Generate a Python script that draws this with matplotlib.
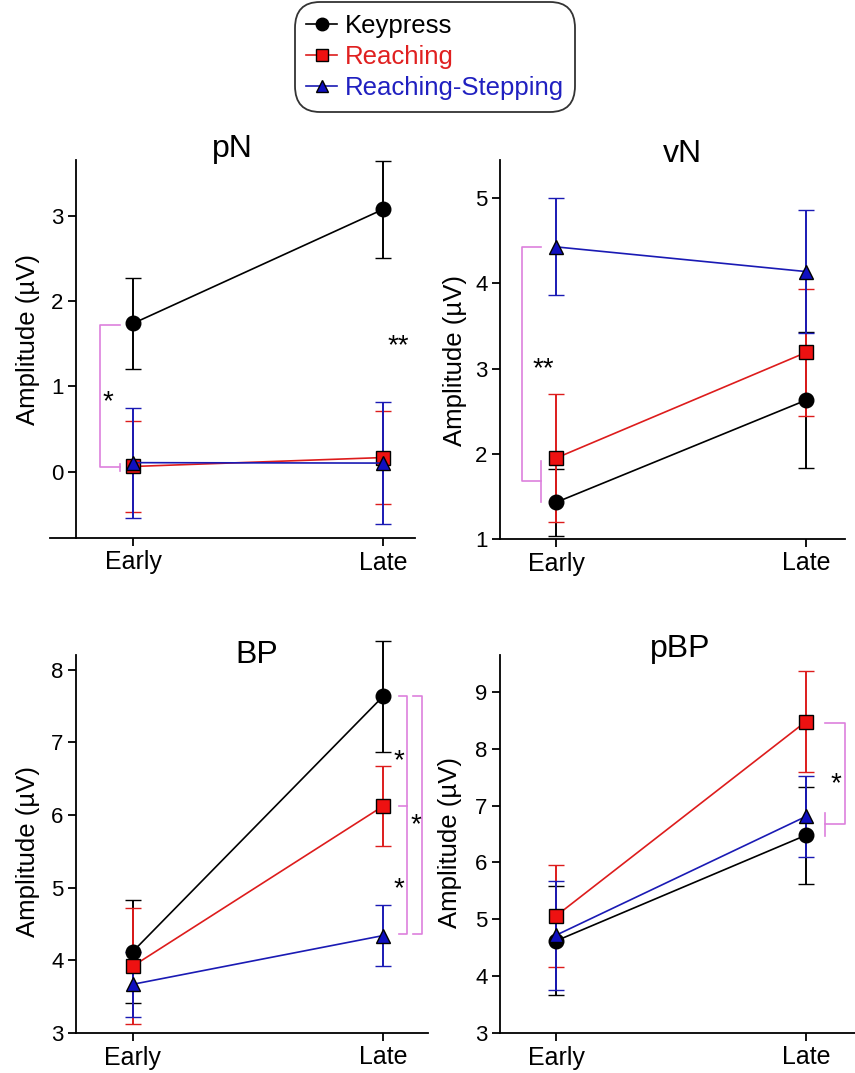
import matplotlib
matplotlib.use('Agg')
import matplotlib.pyplot as plt
from matplotlib.lines import Line2D

plt.rcParams['font.family'] = ['Liberation Sans', 'DejaVu Sans']

# Data (Early, Late), mean and error half-width
categories = ['Early', 'Late']
groups = ['Keypress', 'Reaching', 'Reaching-Stepping']

pn_mean = {'Keypress': [1.74, 3.08], 'Reaching': [0.06, 0.165], 'Reaching-Stepping': [0.105, 0.10]}
pn_err = {'Keypress': [0.53, 0.57], 'Reaching': [0.54, 0.545], 'Reaching-Stepping': [0.645, 0.72]}

vn_mean = {'Keypress': [1.43, 2.63], 'Reaching': [1.95, 3.19], 'Reaching-Stepping': [4.43, 4.14]}
vn_err = {'Keypress': [0.39, 0.80], 'Reaching': [0.75, 0.745], 'Reaching-Stepping': [0.57, 0.72]}

bp_mean = {'Keypress': [4.12, 7.63], 'Reaching': [3.92, 6.12], 'Reaching-Stepping': [3.67, 4.34]}
bp_err = {'Keypress': [0.71, 0.76], 'Reaching': [0.80, 0.55], 'Reaching-Stepping': [0.45, 0.42]}

pbp_mean = {'Keypress': [4.62, 6.48], 'Reaching': [5.06, 8.48], 'Reaching-Stepping': [4.72, 6.81]}
pbp_err = {'Keypress': [0.96, 0.85], 'Reaching': [0.90, 0.89], 'Reaching-Stepping': [0.96, 0.71]}

# styles
RED = '#dd1c1c'
BLUE = '#1a1ab4'
BRACKET = '#dd80dd'
styles = {
    'Keypress': dict(color='black', marker='o', mfc='black', ms=10.5),
    'Reaching': dict(color=RED, marker='s', mfc='#ee1111', ms=10),
    'Reaching-Stepping': dict(color=BLUE, marker='^', mfc='#1010c0', ms=10.5),
}
text_colors = {'Keypress': 'black', 'Reaching': '#e02020', 'Reaching-Stepping': '#2020c0'}

W, H = 855, 1073
fig = plt.figure(figsize=(W / 100, H / 100), dpi=100)


def px_axes(x0, x1, y0, y1):
    # pixel box (top-left origin) -> figure axes
    return fig.add_axes([x0 / W, (H - y1) / H, (x1 - x0) / W, (y1 - y0) / H])


def draw_panel(ax, means, errs, title, xlim, ylim, yticks, title_xy, label_xy, spine_x=None):
    xs = [0, 1]
    for g in groups:
        st = styles[g]
        ax.errorbar(xs, means[g], yerr=errs[g], color=st['color'], marker=st['marker'],
                    mfc=st['mfc'], mec='black', mew=1.0, ms=st['ms'], lw=1.2,
                    elinewidth=1.4, capsize=6, capthick=2.2, clip_on=False, zorder=3)
    ax.set_xlim(*xlim)
    ax.set_ylim(*ylim)
    ax.set_xticks(xs)
    ax.set_xticklabels(categories)
    ax.set_yticks(yticks)
    for s in ['top', 'right']:
        ax.spines[s].set_visible(False)
    for s in ['left', 'bottom']:
        ax.spines[s].set_linewidth(1.3)
    if spine_x is not None:
        ax.spines['left'].set_position(('data', spine_x))
    ax.tick_params(direction='out', length=6, width=1.3, pad=3)
    ax.tick_params(axis='x', labelsize=18)
    ax.tick_params(axis='y', labelsize=16)
    ax.set_ylabel('Amplitude (\u00b5V)', fontsize=18.5, va='center')
    ax.yaxis.set_label_coords(*label_xy)
    ax.text(title_xy[0], title_xy[1], title, transform=ax.transAxes, ha='center',
            va='baseline', fontsize=23)


def star(ax, x, y, s, fs=20):
    ax.annotate(s, (x, y), xytext=(0, -0.58 * fs), textcoords='offset points',
                ha='center', va='baseline', fontsize=fs, annotation_clip=False)


def bracket(ax, x, y_top, y_bot, x_stub, tick=None, mids=()):
    kw = dict(color=BRACKET, lw=1.2, clip_on=False, zorder=2)
    ax.plot([x_stub, x, x, x_stub], [y_top, y_top, y_bot, y_bot], **kw)
    for m in mids:
        ax.plot([x_stub, x], [m, m], **kw)
    if tick is not None:
        ax.plot([x_stub, x_stub], tick, **kw)


# pN
ax1 = px_axes(50, 415, 160, 538)
draw_panel(ax1, pn_mean, pn_err, 'pN', (-0.332, 1.128), (-0.78, 3.66), [0, 1, 2, 3],
           (0.5, 1.008), (-0.06, 0.524), spine_x=-0.228)
bracket(ax1, -0.132, 1.72, 0.05, -0.052, tick=(0.01, 0.09))
star(ax1, -0.10, 0.92, '*')
star(ax1, 1.06, 1.58, '**')

# vN
ax2 = px_axes(500, 845, 160, 539)
draw_panel(ax2, vn_mean, vn_err, 'vN', (-0.224, 1.156), (1, 5.45), [1, 2, 3, 4, 5],
           (0.53, 0.995), (-0.13, 0.472))
bracket(ax2, -0.136, 4.43, 1.68, -0.06, tick=(1.44, 1.91))
star(ax2, -0.05, 3.1, '**')

# BP
ax3 = px_axes(76, 428, 655, 1033)
draw_panel(ax3, bp_mean, bp_err, 'BP', (-0.227, 1.18), (3, 8.2), [3, 4, 5, 6, 7, 8],
           (0.514, 0.98), (-0.136, 0.479))
bracket(ax3, 1.096, 7.63, 4.36, 1.064, mids=(6.12,))
bracket(ax3, 1.156, 7.63, 4.36, 1.12)
star(ax3, 1.064, 6.86, '*')
star(ax3, 1.132, 5.98, '*')
star(ax3, 1.064, 5.11, '*')

# pBP
ax4 = px_axes(500, 855, 655, 1033)
draw_panel(ax4, pbp_mean, pbp_err, 'pBP', (-0.224, 1.196), (3, 9.65), [3, 4, 5, 6, 7, 8, 9],
           (0.507, 0.995), (-0.141, 0.505))
bracket(ax4, 1.156, 8.46, 6.68, 1.076, tick=(6.46, 6.87))
star(ax4, 1.12, 7.53, '*')

# legend
handles = [Line2D([], [], color=styles[g]['color'], marker=styles[g]['marker'],
                  mfc=styles[g]['mfc'], mec='black', ms=9, lw=1.2) for g in groups]
leg = fig.legend(handles, groups, loc='upper center', bbox_to_anchor=(435 / W, 1 - 2 / H),
                 fontsize=18.5, frameon=True, fancybox=True, edgecolor='black',
                 handlelength=1.2, handletextpad=0.3, labelspacing=0.28, borderpad=0.45,
                 borderaxespad=0)
leg.get_frame().set_linewidth(1.3)
leg.get_frame().set_boxstyle('round', pad=0, rounding_size=1.0)
for t, g in zip(leg.get_texts(), groups):
    t.set_color(text_colors[g])

fig.savefig('out.png', dpi=100)
